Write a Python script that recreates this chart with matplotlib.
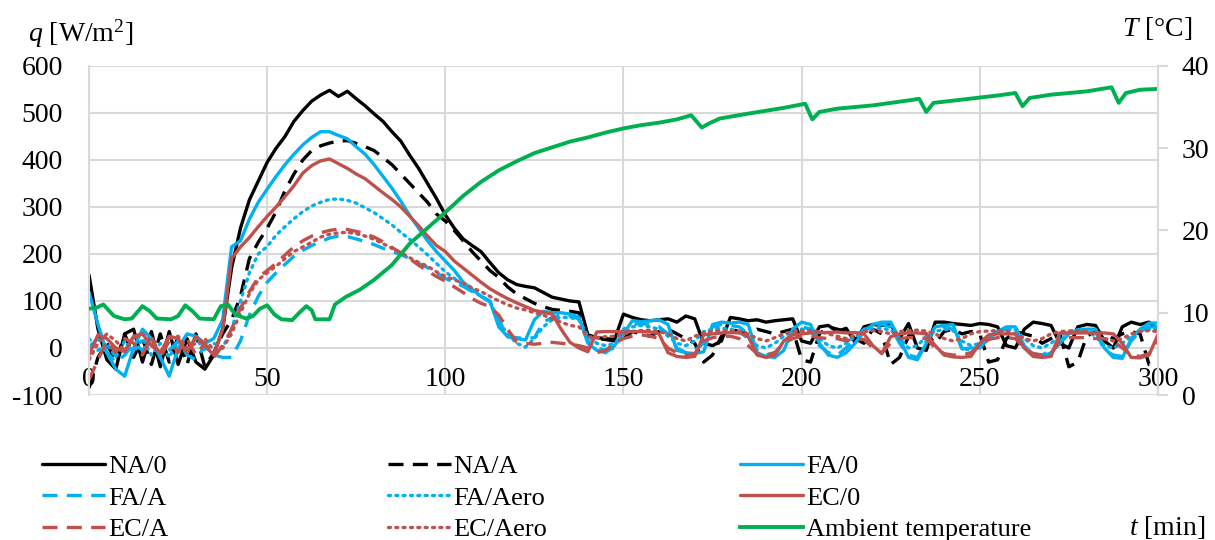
import numpy as np
import matplotlib
matplotlib.use("Agg")
import matplotlib.pyplot as plt

plt.rcParams['font.family'] = 'Liberation Serif'
plt.rcParams['mathtext.fontset'] = 'custom'
plt.rcParams['mathtext.rm'] = 'Liberation Serif'
plt.rcParams['mathtext.it'] = 'Liberation Serif:italic'
plt.rcParams['axes.unicode_minus'] = False

# heat flux readings every 2.5 min [W/m2]
t = np.arange(0, 300.1, 2.5)

na_0 = [155, 40, -25, -45, 30, 40, -30, 35, -40, 35,
        -35, 20, -30, -45, -15, 40, 170, 255, 315, 355,
        395, 425, 450, 482, 505, 525, 538, 548, 535, 546,
        530, 515, 498, 482, 460, 440, 410, 382, 350, 318,
        283, 255, 232, 218, 205, 182, 160, 145, 135, 131,
        128, 118, 108, 104, 100, 98, 28, 22, 20, 18,
        72, 65, 60, 58, 60, 62, 55, 68, 62, 10,
        5, 15, 65, 62, 58, 60, 55, 58, 60, 62,
        15, 10, 45, 48, 35, 42, 12, 45, 50, 48,
        50, 20, 52, 0, -5, 55, 55, 52, 50, 48,
        52, 50, 45, 5, 0, 40, 55, 52, 48, 10,
        0, 45, 50, 48, 15, 0, 45, 55, 50, 55,
        40]

na_a = [-85, -20, 10, -30, 30, -20, 20, -35, 30, -30,
        25, -35, 30, -40, -10, 30, 60, 110, 190, 225,
        255, 290, 335, 370, 400, 420, 430, 436, 440, 441,
        435, 428, 420, 405, 390, 370, 350, 330, 310, 285,
        270, 250, 228, 205, 185, 165, 150, 130, 115, 105,
        95, 88, 82, 80, 78, 75, 25, 20, 18, 15,
        20, 35, 30, 25, 35, 40, 30, 20, 10, -30,
        -15, 25, 40, 35, 30, 40, 35, 30, 35, 40,
        -25, -30, 30, 45, 40, 35, 20, 10, 40, 30,
        -35, -20, 25, 40, 30, 10, 35, 40, 30, 35,
        30, -30, -25, 20, 35, 30, 25, 10, 20, 30,
        -40, -30, 25, 35, 30, 20, 30, 35, 30, -35,
        -35]

fa_0 = [118, 50, -10, -45, -60, 0, 40, 20, -20, -60,
        0, 30, 25, 10, 20, 60, 215, 228, 274, 310,
        338, 365, 390, 412, 432, 448, 460, 460, 452, 445,
        428, 412, 390, 365, 340, 312, 282, 255, 228, 205,
        185, 165, 140, 125, 110, 100, 45, 24, 20, 17,
        60, 78, 75, 75, 72, 66, 10, -5, -10, 5,
        30, 58, 56, 58, 60, 50, -5, -10, -12, -8,
        50, 55, 53, 55, 50, -10, -18, -20, -5, 40,
        55, 50, 10, -15, -20, -10, 10, 35, 50, 55,
        55, 20, -20, -25, 10, 45, 48, 50, -2, 0,
        0, 20, 35, 45, 45, 5, -15, -18, -10, 10,
        30, 39, 40, 40, 0, -20, -22, 20, 40, 53,
        53]

fa_a = [2, 20, -10, -30, -15, 10, -5, 15, -20, -5,
        15, -15, -25, 5, -15, -20, -20, 15, 70, 110,
        140, 160, 178, 195, 208, 218, 226, 234, 238, 237,
        232, 226, 220, 212, 205, 199, 190, 180, 171, 160,
        148, 140, 131, 120, 110, 98, 60, 24, 22, 20,
        22, 55, 65, 70, 68, 62, 15, 0, -5, 0,
        40, 50, 52, 50, 45, 30, 0, -10, -5, 10,
        45, 50, 48, 45, 30, -5, -15, -10, 10, 35,
        45, 40, 5, -10, -15, 0, 20, 40, 45, 50,
        45, 10, -15, -20, 15, 40, 45, 40, 0, -5,
        5, 25, 35, 40, 38, 0, -12, -15, -5, 15,
        30, 35, 38, 35, -5, -15, -18, 15, 35, 45,
        45]

fa_aero = [20, -5, 10, -20, 15, -10, 20, -15, 10, -20,
           15, -10, 20, -5, 10, 0, 40, 100, 160, 200,
           216, 240, 258, 275, 290, 302, 310, 316, 317, 314,
           308, 298, 288, 275, 262, 246, 231, 215, 198, 180,
           162, 148, 135, 122, 110, 100, 55, 30, 10, 2,
           20, 45, 60, 65, 65, 60, 25, 10, 5, 10,
           30, 45, 48, 45, 40, 25, 10, 5, 15, 35,
           40, 42, 40, 35, 20, 5, 0, 10, 25, 35,
           40, 38, 20, 5, 0, 10, 25, 35, 40, 42,
           38, 20, 0, 5, 25, 35, 40, 38, 15, 5,
           10, 25, 35, 40, 38, 20, 5, 0, 10, 25,
           35, 38, 35, 25, 5, 0, 10, 25, 35, 40,
           40]

ec_0 = [-15, 28, 20, 0, -8, 25, 30, 5, -10, 25,
        20, -10, 25, 5, -15, 40, 190, 215, 235, 258,
        280, 300, 322, 345, 372, 388, 398, 402, 392, 382,
        370, 360, 345, 330, 316, 300, 280, 260, 238, 218,
        205, 185, 170, 155, 140, 126, 115, 105, 96, 88,
        80, 76, 72, 40, 12, 0, -8, 34, 35, 35,
        34, 35, 35, 34, 30, -10, -18, -20, -18, 28,
        30, 32, 33, 32, 25, -15, -20, -15, 15, 28,
        30, 32, 33, 33, 34, 32, 33, 30, 5, -12,
        24, 30, 32, 32, 30, 5, -15, -19, -20, -18,
        10, 28, 30, 30, 30, 0, -18, -20, -18, 32,
        32, 32, 32, 32, 32, 30, 10, -20, -21, -15,
        28]

ec_a = [-68, -25, 15, -10, 20, 10, -15, 25, -20, 15,
        -10, 20, -15, 10, -20, 5, 40, 85, 120, 150,
        165, 180, 198, 215, 228, 238, 245, 250, 253, 252,
        248, 243, 236, 226, 214, 202, 190, 176, 164, 152,
        142, 130, 118, 105, 95, 88, 70, 40, 13, 10,
        8, 10, 12, 10, 8, 5, 0, -10, -5, 10,
        20, 25, 28, 25, 20, 0, -10, -15, -12, 15,
        22, 25, 25, 20, 5, -12, -15, -10, 10, 20,
        25, 25, 22, 20, 20, 15, 20, 18, 0, -10,
        10, 20, 22, 22, 20, 0, -12, -15, -15, -10,
        5, 18, 22, 22, 20, 0, -12, -15, -12, 15,
        22, 22, 22, 20, 20, 15, 0, -15, -18, -12,
        18]

ec_aero = [-25, 10, 30, 15, -5, 20, 30, 10, -10, 20,
           25, 0, 10, 20, -5, 0, 30, 75, 115, 145,
           160, 174, 190, 205, 215, 225, 236, 242, 245, 246,
           243, 238, 231, 222, 212, 203, 192, 182, 174, 162,
           152, 145, 138, 128, 120, 110, 100, 92, 85, 81,
           75, 70, 62, 55, 48, 45, 24, 22, 24, 25,
           30, 35, 37, 38, 35, 30, 20, 15, 25, 32,
           35, 37, 36, 35, 30, 20, 15, 22, 30, 35,
           36, 37, 35, 30, 25, 20, 28, 35, 37, 35,
           30, 35, 37, 38, 36, 30, 20, 15, 20, 30,
           35, 36, 37, 35, 30, 20, 15, 20, 30, 35,
           36, 37, 35, 30, 20, 15, 20, 30, 35, 37,
           35]

# ambient temperature [°C]
t_amb = [0, 2, 4, 7, 10, 12, 15, 17, 19, 23, 25, 27, 29, 31, 35, 37, 39,
         41, 44, 46, 48, 50, 52, 54, 57, 59, 61, 62.5, 63.5, 67.5, 69, 72,
         76, 80, 85, 90, 95, 100, 105, 110, 115, 120, 125, 130, 135, 140,
         145, 150, 155, 160, 165, 169, 172, 174, 177, 185, 195, 201, 203,
         205, 210, 220, 230, 233, 235, 237, 245, 255, 260, 262, 264, 270,
         280, 287, 289, 291, 295, 300]
temp_amb = [10.5, 10.6, 11.0, 9.6, 9.2, 9.3, 10.8, 10.2, 9.3, 9.2, 9.6,
            10.9, 10.2, 9.3, 9.2, 10.8, 11.0, 9.8, 9.3, 9.6, 10.5, 10.9,
            9.8, 9.2, 9.1, 10.0, 10.8, 10.3, 9.2, 9.2, 11.0, 11.9, 12.8,
            14.0, 15.8, 18.4, 20.3, 22.2, 24.2, 25.9, 27.3, 28.4, 29.4,
            30.1, 30.8, 31.3, 31.9, 32.4, 32.8, 33.1, 33.5, 34.0, 32.5,
            33.0, 33.6, 34.2, 34.9, 35.4, 33.5, 34.4, 34.8, 35.2, 35.8,
            36.0, 34.4, 35.5, 35.9, 36.4, 36.7, 35.1, 36.1, 36.5, 36.9,
            37.4, 35.5, 36.7, 37.1, 37.2]

BLACK = '#000000'
BLUE = '#00b0f0'
RED = '#c0504d'
GREEN = '#00b050'
GRID = '#d9d9d9'

dash = (0, (4.5, 2.8))
dots = (0, (0.6, 1.6))

fig = plt.figure(figsize=(12.15, 5.4), dpi=100)
ax = fig.add_axes([0.0733, 0.2685, 0.8797, 0.6095])

lw = 2.4
series = [
    ('NA/0', na_0, BLACK, '-'),
    ('NA/A', na_a, BLACK, dash),
    ('FA/0', fa_0, BLUE, '-'),
    ('FA/A', fa_a, BLUE, dash),
    ('FA/Aero', fa_aero, BLUE, dots),
    ('EC/0', ec_0, RED, '-'),
    ('EC/A', ec_a, RED, dash),
    ('EC/Aero', ec_aero, RED, dots),
]
handles = {}
for name, vals, col, ls in series:
    ln, = ax.plot(t, vals, color=col, lw=lw, linestyle=ls, label=name,
                  solid_capstyle='round',
                  dash_capstyle='round' if ls is dots else 'butt')
    handles[name] = ln

ax.set_xlim(0, 300)
ax.set_ylim(-100, 600)
ax.set_xticks(np.arange(0, 301, 50))
ax.set_yticks(np.arange(-100, 601, 100))
ax.grid(True, color=GRID, lw=1.5)
ax.set_axisbelow(True)
ax.spines['bottom'].set_position(('data', 0))
ax.spines['bottom'].set_visible(False)
ax.spines['top'].set_visible(False)
ax.spines['right'].set_visible(False)
ax.spines['left'].set_color(GRID)
ax.spines['left'].set_linewidth(1.5)
ax.tick_params(axis='x', length=0, pad=14, labelsize=20)
ax.tick_params(axis='y', length=0, pad=19, labelsize=20)

ax2 = ax.twinx()
amb, = ax2.plot(t_amb, temp_amb, color=GREEN, lw=lw + 0.4, label='Ambient temperature')
handles['Ambient temperature'] = amb
ax2.set_ylim(0, 40)
ax2.set_yticks(np.arange(0, 41, 10))
for s in ['top', 'bottom', 'left']:
    ax2.spines[s].set_visible(False)
ax2.spines['right'].set_color(GRID)
ax2.spines['right'].set_linewidth(1.5)
ax2.tick_params(axis='y', length=7, width=1.5, color=GRID, pad=10, labelsize=20)

fig.text(0.023, 0.937, '$q$ [W/m$^2$]', fontsize=20, va='center', ha='left')
fig.text(0.981, 0.948, '$T$ [°C]', fontsize=20, va='center', ha='right')
fig.text(0.992, 0.024, '$t$ [min]', fontsize=20, va='center', ha='right')

# three legend columns, read row by row
columns = [
    (0.0346, ['NA/0', 'FA/A', 'EC/A']),
    (0.319, ['NA/A', 'FA/Aero', 'EC/Aero']),
    (0.609, ['FA/0', 'EC/0', 'Ambient temperature']),
]
for x0, names in columns:
    fig.legend([handles[n] for n in names], names, loc='upper left',
               bbox_to_anchor=(x0, 0.158), frameon=False, fontsize=19,
               handlelength=2.4, handletextpad=0.1, labelspacing=0.3,
               borderpad=0, borderaxespad=0)

fig.savefig('out.png', dpi=100)
